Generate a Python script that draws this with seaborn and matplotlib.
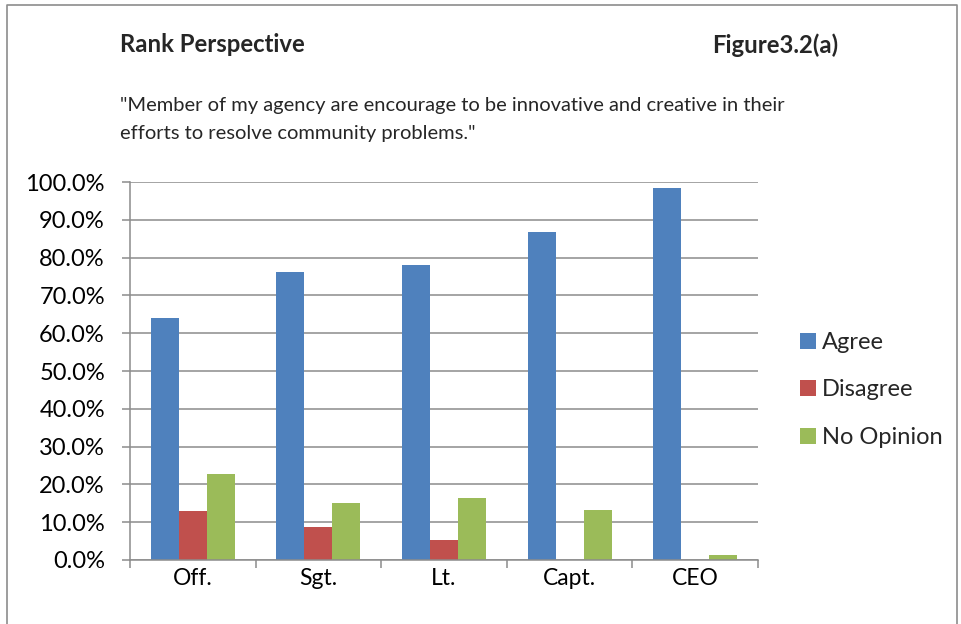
import matplotlib
matplotlib.use("Agg")
import matplotlib.pyplot as plt
import seaborn as sns
import pandas as pd
from matplotlib.ticker import FuncFormatter, FixedLocator
from matplotlib.lines import Line2D
from matplotlib.patches import Patch

ranks = ["Off.", "Sgt.", "Lt.", "Capt.", "CEO"]
agree = [64.0, 76.3, 78.1, 86.8, 98.4]
disagree = [13.0, 8.7, 5.3, 0.0, 0.0]
no_opinion = [22.8, 15.0, 16.3, 13.1, 1.3]
series_names = ["Agree", "Disagree", "No Opinion"]
colors = ["#4F81BD", "#C0504D", "#9BBB59"]

rows = []
for name, vals in zip(series_names, [agree, disagree, no_opinion]):
    for r, v in zip(ranks, vals):
        rows.append({"Rank": r, "Response": name, "Value": v / 100.0})
df = pd.DataFrame(rows)

sns.set_theme(style="white")
plt.rcParams["font.family"] = ["Lato", "DejaVu Sans"]

W, H = 961, 624
fig = plt.figure(figsize=(W / 100, H / 100), dpi=100)
ax = fig.add_axes([130 / W, 1 - 560 / H, 628 / W, 378 / H])

sns.barplot(data=df, x="Rank", y="Value", hue="Response", order=ranks,
            hue_order=series_names, palette=colors, width=0.67,
            saturation=1, ax=ax, legend=False, linewidth=0)

ax.set_ylim(0, 1.0)
ax.set_xlim(-0.5, len(ranks) - 0.5)
yt = [i / 10 for i in range(11)]
ax.set_yticks(yt)
ax.yaxis.set_major_formatter(FuncFormatter(lambda v, p: f"{v*100:.1f}%"))
ax.grid(axis="y", color="#8c8c8c", linewidth=1.1)
ax.set_axisbelow(True)
for s in ["top", "right"]:
    ax.spines[s].set_visible(False)
for s in ["left", "bottom"]:
    ax.spines[s].set_color("#8c8c8c")
    ax.spines[s].set_linewidth(1.1)
ax.tick_params(axis="y", length=6, width=1.1, color="#8c8c8c", labelsize=17, pad=12, left=True)
ax.tick_params(axis="x", which="major", length=0, labelsize=16.5, pad=6)
ax.xaxis.set_minor_locator(FixedLocator([i - 0.5 for i in range(len(ranks) + 1)]))
ax.tick_params(axis="x", which="minor", length=6, width=1.1, color="#8c8c8c", bottom=True)
ax.set_xlabel("")
ax.set_ylabel("")
for lab in ax.get_xticklabels() + ax.get_yticklabels():
    lab.set_color("#000000")

handles = [Patch(facecolor=c, edgecolor="none") for c in colors]
fig.legend(handles, series_names, loc="center left", bbox_to_anchor=(800 / W, 1 - 390 / H),
           frameon=False, fontsize=17, handlelength=0.68, handleheight=0.68,
           handletextpad=0.25, labelspacing=1.12, borderaxespad=0, borderpad=0)

fig.text(120 / W, 1 - 45 / H, "Rank Perspective", fontsize=17.2, fontweight="bold",
         va="center", ha="left")
fig.text(838 / W, 1 - 45 / H, "Figure3.2(a)", fontsize=17.2, fontweight="bold",
         va="center", ha="right")
fig.text(120 / W, 1 - 106 / H,
         "\"Member of my agency are encourage to be innovative and creative in their",
         fontsize=14.5, va="center", ha="left")
fig.text(120 / W, 1 - 133 / H, "efforts to resolve community problems.\"",
         fontsize=14.5, va="center", ha="left")

# outer frame
fx = [7 / W, 7 / W, 957 / W, 957 / W]
fy = [0, 1 - 5 / H, 1 - 5 / H, 0]
fig.add_artist(Line2D(fx, fy, transform=fig.transFigure, color="#8c8c8c", linewidth=1.2))

fig.savefig("out.png", dpi=100, facecolor="white")
